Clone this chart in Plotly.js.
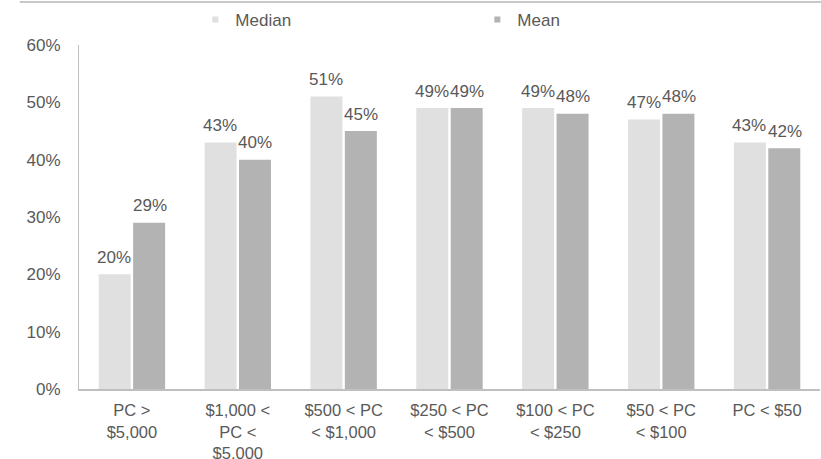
<!DOCTYPE html>
<html>
<head>
<meta charset="utf-8">
<script src="https://cdn.plot.ly/plotly-3.0.1.min.js"></script>
<style>
  html, body { margin: 0; padding: 0; background: #ffffff; }
  #chart { width: 821px; height: 459px; }
</style>
</head>
<body>
<div id="chart"></div>
<script>
// Price-class buckets (x-axis categories, wrapped over lines)
const categories = [
  "PC &gt;<br>$5,000",
  "$1,000 &lt;<br>PC &lt;<br>$5,000",
  "$500 &lt; PC<br>&lt; $1,000",
  "$250 &lt; PC<br>&lt; $500",
  "$100 &lt; PC<br>&lt; $250",
  "$50 &lt; PC<br>&lt; $100",
  "PC &lt; $50"
];

// Values in percent
const medianValues = [20, 43, 51, 49, 49, 47, 43];
const meanValues   = [29, 40, 45, 49, 48, 48, 42];

const seriesNames = ["Median", "Mean"];
const seriesColors = ["#e0e0e0", "#b3b3b3"];

const textColor = "#595959";
const baseFont = { family: "Liberation Sans, Arial, sans-serif", size: 17, color: textColor };
const catFont = { family: "Liberation Sans, Arial, sans-serif", size: 16.5, color: textColor };

const xIdx = categories.map((_, i) => i);

const traces = [
  {
    type: "bar", x: xIdx, y: medianValues, name: seriesNames[0],
    marker: { color: seriesColors[0] }, showlegend: false, hoverinfo: "skip"
  },
  {
    type: "bar", x: xIdx, y: meanValues, name: seriesNames[1],
    marker: { color: seriesColors[1] }, showlegend: false, hoverinfo: "skip"
  },
  // small square legend keys
  {
    type: "scatter", mode: "markers", x: [null], y: [null], name: seriesNames[0],
    marker: { symbol: "square", size: 6, color: seriesColors[0] }
  },
  {
    type: "scatter", mode: "markers", x: [null], y: [null], name: seriesNames[1],
    marker: { symbol: "square", size: 6, color: seriesColors[1] }
  }
];

// value labels above each bar
const annotations = [];
const barOffset = 17.7;
[medianValues, meanValues].forEach((vals, s) => {
  vals.forEach((v, i) => {
    annotations.push({
      x: xIdx[i], y: v, xref: "x", yref: "y",
      text: v + "%", showarrow: false,
      xshift: s === 0 ? -barOffset : barOffset,
      yshift: 17, yanchor: "middle", xanchor: "center",
      font: baseFont
    });
  });
});

const plotTop = 45, plotBottom = 70, figH = 459;
const plotH = figH - plotTop - plotBottom;
// convert a pixel row of the figure into paper coordinates
const rowToPaper = (py) => (figH - plotBottom - py) / plotH;

const layout = {
  width: 821, height: figH,
  margin: { l: 79, r: 1, t: plotTop, b: plotBottom, autoexpand: false },
  paper_bgcolor: "#ffffff",
  plot_bgcolor: "#ffffff",
  font: baseFont,
  barmode: "group",
  bargap: 0.35,
  bargroupgap: 0.07,
  showlegend: true,
  legend: {
    orientation: "h",
    x: 0.157, y: rowToPaper(20), xanchor: "left", yanchor: "middle",
    entrywidth: 237,
    itemwidth: 30,
    font: baseFont,
    bgcolor: "rgba(0,0,0,0)"
  },
  xaxis: {
    type: "linear",
    range: [-0.5, categories.length - 0.5],
    tickmode: "array",
    tickvals: xIdx,
    ticktext: categories,
    showgrid: false, zeroline: false,
    showline: true, linecolor: "#bfbfbf", linewidth: 1.5,
    ticks: "",
    ticklabelstandoff: 6,
    tickfont: catFont,
    fixedrange: true
  },
  yaxis: {
    range: [0, 60],
    tickmode: "linear", tick0: 0, dtick: 10,
    ticksuffix: "%",
    showgrid: false, zeroline: false,
    showline: true, linecolor: "#bfbfbf", linewidth: 1,
    ticks: "",
    ticklabelstandoff: 14,
    tickfont: baseFont,
    fixedrange: true
  },
  annotations: annotations,
  shapes: [
    // horizontal rule along the very top of the figure
    {
      type: "line", xref: "paper", yref: "paper",
      x0: -0.08, x1: 1.01, y0: rowToPaper(2), y1: rowToPaper(2),
      line: { color: "#c8c8c8", width: 2 },
      layer: "below"
    }
  ]
};

Plotly.newPlot("chart", traces, layout, { displayModeBar: false, staticPlot: true });
</script>
</body>
</html>
